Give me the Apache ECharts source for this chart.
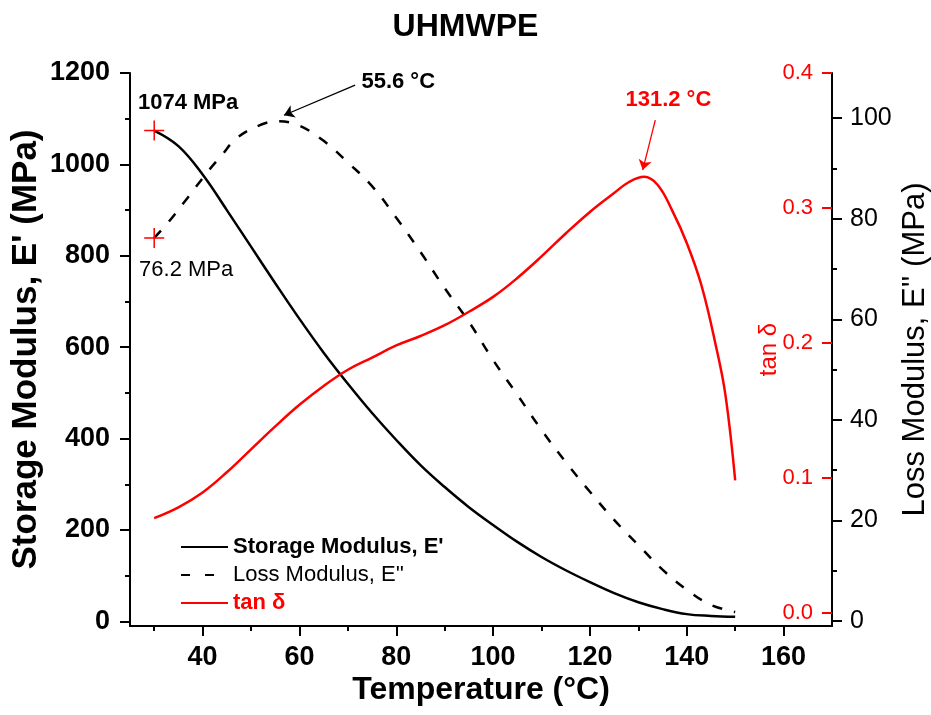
<!DOCTYPE html>
<html><head><meta charset="utf-8">
<script src="https://cdn.jsdelivr.net/npm/echarts@6/dist/echarts.min.js"></script>
<style>html,body{margin:0;padding:0;background:#fff}#c{width:931px;height:715px}</style>
</head><body><div id="c"></div><script>
const FONT = "'Liberation Sans', Arial, sans-serif";

// ---- data ----
const storageTemp = [30,35,40,45,50,55,60,65,70,75,80,85,90,95,100,105,110,115,120,125,130,135,140,145,150];
const storageMod  = [1074,1040,978,900,820,740,662,588,520,456,397,342,294,250,211,174,141,112,86,62,42,27,16,12,10];

const lossTemp = [30,33,37,41,44,47,52,55.6,60,65,70,75,80,85,90,95,100,105,110,115,120,125,130,135,140,145,150];
const lossMod  = [76.2,79.4,84.3,89.3,92.7,96,98.7,99.4,98.5,95.5,91.2,86.5,80.2,73.4,66.2,59.5,51.9,45,38,31.6,25.7,20.1,15.1,10.2,6.2,3.2,1.8];

const tanTemp = [30,35,40,45,50,55,60,65,70,75,80,85,90,95,100,105,110,115,120,125,128,131.2,134,137,140,143,146,148,150];
const tanD    = [0.070,0.078,0.089,0.104,0.121,0.138,0.154,0.168,0.180,0.189,0.198,0.205,0.213,0.223,0.234,0.248,0.264,0.281,0.297,0.311,0.319,0.323,0.317,0.298,0.274,0.243,0.198,0.161,0.098];

const xMajor = [40,60,80,100,120,140,160];
const xMinor = [30,50,70,90,110,130,150];
const yLeftMajor = [0,200,400,600,800,1000,1200];
const yLeftMinor = [100,300,500,700,900,1100];
const yLossMajor = [0,20,40,60,80,100];
const yLossMinor = [10,30,50,70,90];
const yTanMajor = [0,0.1,0.2,0.3,0.4];

const seriesNames = ["Storage Modulus, E'", "Loss Modulus, E''", "tan δ"];
const annStorage = "1074 MPa";
const annLossStart = "76.2 MPa";
const annLossPeak = "55.6 °C";
const annTanPeak = "131.2 °C";
const lossPeakT = 55.6, tanPeakT = 131.2;

const zip = (a, b) => a.map((v, i) => [v, b[i]]);
const plus = 'path://M0,10L20,10M10,0L10,20';
const RED = '#ff0000';

const chart = echarts.init(document.getElementById('c'), null, {renderer: 'canvas'});
chart.setOption({
  animation: false,
  backgroundColor: '#fff',
  title: {
    text: 'UHMWPE', left: 'center', top: 6,
    textStyle: {fontFamily: FONT, fontSize: 32, fontWeight: 'bold', color: '#000'}
  },
  grid: {left: 130, right: 99, top: 73, bottom: 89, containLabel: false, outerBoundsMode: 'none'},
  legend: {
    orient: 'vertical', left: 175, top: 531, itemWidth: 47, itemHeight: 14, itemGap: 6,
    itemStyle: {opacity: 0},
    textStyle: {fontFamily: FONT, fontSize: 22, color: '#000'},
    data: [
      {name: seriesNames[0], textStyle: {fontWeight: 'bold'}},
      {name: seriesNames[1], textStyle: {fontWeight: 'normal'}, lineStyle: {type: [9, 15]}},
      {name: seriesNames[2], textStyle: {fontWeight: 'bold', color: RED}}
    ]
  },
  xAxis: [
    {
      type: 'value', min: 25, max: 170, position: 'bottom', nameMoveOverlap: false,
      axisLine: {show: true, onZero: false, lineStyle: {color: '#000', width: 2}},
      axisTick: {show: true, length: 10, customValues: xMajor, lineStyle: {color: '#000', width: 2}},
      axisLabel: {customValues: xMajor, fontFamily: FONT, fontSize: 27, fontWeight: 'bold', color: '#000', margin: 18},
      splitLine: {show: false},
      name: 'Temperature (°C)', nameLocation: 'middle', nameGap: 48,
      nameTextStyle: {fontFamily: FONT, fontSize: 32, fontWeight: 'bold', color: '#000'}
    },
    {
      type: 'value', min: 25, max: 170, position: 'bottom',
      axisLine: {show: false, onZero: false},
      axisTick: {show: true, length: 5, customValues: xMinor, lineStyle: {color: '#000', width: 2}},
      axisLabel: {show: false}, splitLine: {show: false}
    }
  ],
  yAxis: [
    {
      type: 'value', min: -10, max: 1200, position: 'left', nameMoveOverlap: false,
      axisLine: {show: true, onZero: false, lineStyle: {color: '#000', width: 2}},
      axisTick: {show: true, length: 10, customValues: yLeftMajor, lineStyle: {color: '#000', width: 2}},
      axisLabel: {customValues: yLeftMajor, fontFamily: FONT, fontSize: 27, fontWeight: 'bold', color: '#000', margin: 20,
                  formatter: v => String(v)},
      splitLine: {show: false},
      name: "Storage Modulus, E' (MPa)", nameLocation: 'middle', nameGap: 86, nameRotate: 90,
      nameTextStyle: {fontFamily: FONT, fontSize: 35, fontWeight: 'bold', color: '#000'}
    },
    {
      type: 'value', min: -10, max: 1200, position: 'left',
      axisLine: {show: false, onZero: false},
      axisTick: {show: true, length: 5, customValues: yLeftMinor, lineStyle: {color: '#000', width: 2}},
      axisLabel: {show: false}, splitLine: {show: false}
    },
    {
      type: 'value', min: -1, max: 109, position: 'right', nameMoveOverlap: false,
      axisLine: {show: true, onZero: false, lineStyle: {color: '#000', width: 2}},
      axisTick: {show: true, length: 10, customValues: yLossMajor, lineStyle: {color: '#000', width: 2}},
      axisLabel: {customValues: yLossMajor, fontFamily: FONT, fontSize: 25, color: '#000', margin: 18},
      splitLine: {show: false},
      name: "Loss Modulus, E'' (MPa)", nameLocation: 'middle', nameGap: 68, nameRotate: 90,
      nameTextStyle: {fontFamily: FONT, fontSize: 31, color: '#000'}
    },
    {
      type: 'value', min: -1, max: 109, position: 'right',
      axisLine: {show: false, onZero: false},
      axisTick: {show: true, length: 5, customValues: yLossMinor, lineStyle: {color: '#000', width: 2}},
      axisLabel: {show: false}, splitLine: {show: false}
    },
    {
      type: 'value', min: -0.01, max: 0.4, position: 'right', nameMoveOverlap: false,
      axisLine: {show: false, onZero: false},
      axisTick: {show: true, inside: true, length: 10, customValues: yTanMajor, lineStyle: {color: RED, width: 2}},
      axisLabel: {inside: true, customValues: yTanMajor, fontFamily: FONT, fontSize: 22, color: RED, margin: 19,
                  formatter: v => v.toFixed(1)},
      splitLine: {show: false},
      name: 'tan δ', nameLocation: 'middle', nameGap: -75, nameRotate: 90,
      nameTextStyle: {fontFamily: FONT, fontSize: 24, color: RED}
    }
  ],
  series: [
    {
      name: seriesNames[0], type: 'line', xAxisIndex: 0, yAxisIndex: 0,
      data: zip(storageTemp, storageMod), showSymbol: false, symbol: 'none', smooth: 0.4,
      lineStyle: {color: '#000', width: 2.5}, itemStyle: {color: '#000'}, z: 3,
      markPoint: {
        silent: true,
        data: [
          {coord: [storageTemp[0], storageMod[0]], symbol: plus, symbolSize: 20,
           itemStyle: {color: 'rgba(0,0,0,0)', borderColor: RED, borderWidth: 1.5}, label: {show: false}},
          {coord: [37, 1134], symbol: 'rect', symbolSize: 1, itemStyle: {color: 'rgba(0,0,0,0)'},
           label: {show: true, position: 'inside', formatter: annStorage, fontFamily: FONT, fontSize: 22, fontWeight: 'bold', color: '#000'}}
        ]
      }
    },
    {
      name: seriesNames[1], type: 'line', xAxisIndex: 0, yAxisIndex: 2,
      data: zip(lossTemp, lossMod), showSymbol: false, symbol: 'none', smooth: 0.4,
      lineStyle: {color: '#000', width: 2.5, type: [10, 12]}, itemStyle: {color: '#000'}, z: 3,
      markPoint: {
        silent: true,
        data: [
          {coord: [lossTemp[0], lossMod[0]], symbol: plus, symbolSize: 20,
           itemStyle: {color: 'rgba(0,0,0,0)', borderColor: RED, borderWidth: 1.5}, label: {show: false}},
          {coord: [36.6, 69.8], symbol: 'rect', symbolSize: 1, itemStyle: {color: 'rgba(0,0,0,0)'},
           label: {show: true, position: 'inside', formatter: annLossStart, fontFamily: FONT, fontSize: 22, color: '#000'}},
          {coord: [80.4, 107.2], symbol: 'rect', symbolSize: 1, itemStyle: {color: 'rgba(0,0,0,0)'},
           label: {show: true, position: 'inside', formatter: annLossPeak, fontFamily: FONT, fontSize: 22, fontWeight: 'bold', color: '#000'}}
        ]
      },
      markLine: {
        silent: true, symbol: ['none', 'arrow'], symbolSize: 10,
        lineStyle: {color: '#000', width: 1.3, type: 'solid'}, label: {show: false},
        data: [[{coord: [71.5, 106.6], symbol: 'none'}, {coord: [lossPeakT + 1.2, 100.6], symbol: 'arrow'}]]
      }
    },
    {
      name: seriesNames[2], type: 'line', xAxisIndex: 0, yAxisIndex: 4,
      data: zip(tanTemp, tanD), showSymbol: false, symbol: 'none', smooth: 0.4,
      lineStyle: {color: RED, width: 2.5}, itemStyle: {color: RED}, z: 3,
      markPoint: {
        silent: true,
        data: [
          {coord: [136.2, 0.380], symbol: 'rect', symbolSize: 1, itemStyle: {color: 'rgba(0,0,0,0)'},
           label: {show: true, position: 'inside', formatter: annTanPeak, fontFamily: FONT, fontSize: 22, fontWeight: 'bold', color: RED}}
        ]
      },
      markLine: {
        silent: true, symbol: ['none', 'arrow'], symbolSize: 10,
        lineStyle: {color: RED, width: 1.3, type: 'solid'}, label: {show: false},
        data: [[{coord: [133.5, 0.365], symbol: 'none'}, {coord: [tanPeakT - 0.3, 0.328], symbol: 'arrow'}]]
      }
    }
  ]
});
</script></body></html>
